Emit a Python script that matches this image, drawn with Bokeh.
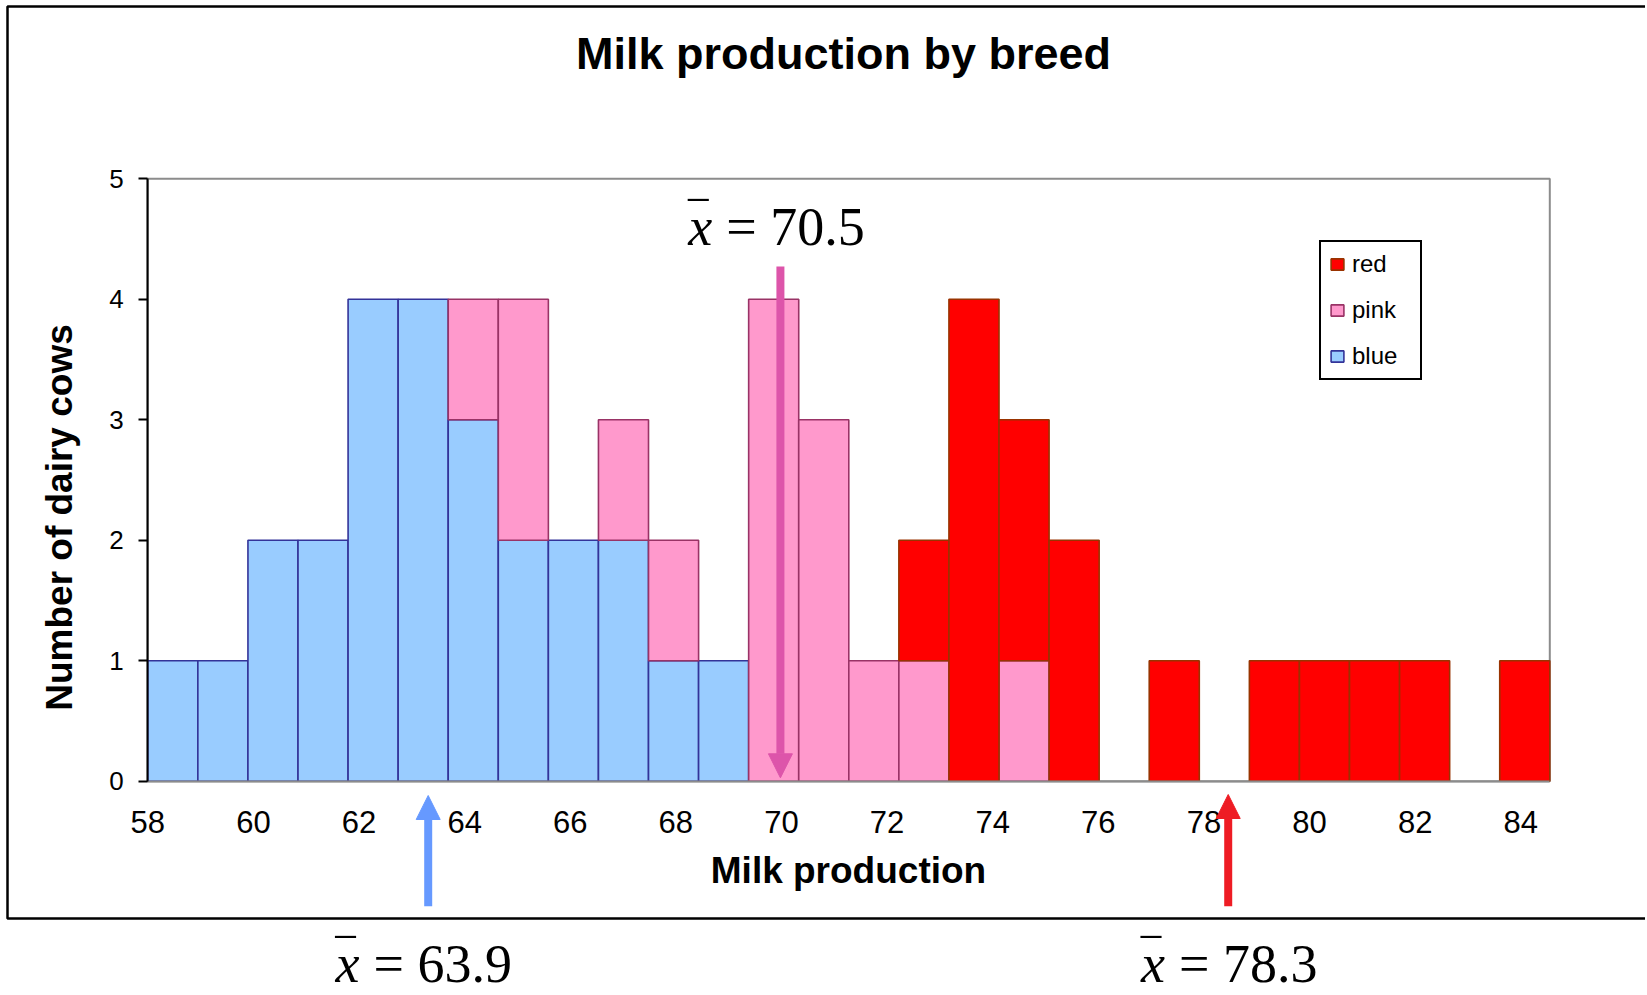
import numpy as np
from bokeh.plotting import figure
from bokeh.models import (ColumnDataSource, Range1d, FixedTicker, Legend, LegendItem,
                          Label, Arrow, NormalHead, BoxAnnotation)
from bokeh.embed import file_html
from bokeh.resources import INLINE

# ---------------- data ----------------
bin_start = 58.0
bin_end = 84.55
n_bins = 28

blue_counts = [1, 1, 2, 2, 4, 4, 3, 2, 2, 2, 1, 1, 0, 0, 0, 0, 0, 0, 0, 0, 0, 0, 0, 0, 0, 0, 0, 0]
pink_counts = [0, 0, 0, 0, 0, 0, 1, 2, 0, 1, 1, 0, 4, 3, 1, 1, 0, 1, 0, 0, 0, 0, 0, 0, 0, 0, 0, 0]
red_counts  = [0, 0, 0, 0, 0, 0, 0, 0, 0, 0, 0, 0, 0, 0, 0, 1, 4, 2, 2, 0, 1, 0, 1, 1, 1, 1, 0, 1]

series_names = ["blue", "pink", "red"]
legend_order = ["red", "pink", "blue"]
x_ticks = [58, 60, 62, 64, 66, 68, 70, 72, 74, 76, 78, 80, 82, 84]
y_ticks = [0, 1, 2, 3, 4, 5]
y_max = 5

mean_labels = ["63.9", "70.5", "78.3"]
arrow_x = [63.31, 69.98, 78.46]          # where the arrows stand in the picture

fill_colors = {"blue": "#99CCFF", "pink": "#FF99CC", "red": "#FF0000"}
line_colors = {"blue": "#333399", "pink": "#993366", "red": "#993300"}
arrow_colors = ["#6699FF", "#DD55AA", "#EE1C24"]

# ---------------- layout (pixels) ----------------
W, H = 1645, 993
PLOT_L, PLOT_R = 147.3, 1549.3      # pixels of bin_start / bin_end
PLOT_T, PLOT_B = 178.3, 780.7       # pixels of y_max / 0

kx = (PLOT_R - PLOT_L) / (bin_end - bin_start)
ky = (PLOT_B - PLOT_T) / y_max


def X(px):
    return bin_start + (px - PLOT_L) / kx


def Y(py):
    return (PLOT_B - py) / ky


SANS = "Liberation Sans"
SERIF = "Liberation Serif"

p = figure(width=W, height=H, title=None,
           x_range=Range1d(X(0), X(W)), y_range=Range1d(Y(H), Y(0)),
           min_border=0, min_border_left=0, min_border_right=0,
           min_border_top=0, min_border_bottom=0,
           output_backend="svg", toolbar_location=None,
           background_fill_color="white", border_fill_color="white")
p.outline_line_color = None
p.xgrid.visible = False
p.ygrid.visible = False

# plot-area frame (grey top/right edges)
p.add_layout(BoxAnnotation(left=bin_start, right=bin_end, bottom=0, top=y_max,
                           fill_color=None, line_color="#8C8C8C", line_alpha=1,
                           line_width=2, level="underlay"))

# stacked histogram
bw = (bin_end - bin_start) / n_bins
centers = [bin_start + bw * (i + 0.5) for i in range(n_bins)]
counts = {"blue": blue_counts, "pink": pink_counts, "red": red_counts}
bottom_acc = [0] * n_bins
renderers = {}
for name in series_names:
    c = counts[name]
    xs, bots, tops = [], [], []
    for i in range(n_bins):
        if c[i] > 0:
            xs.append(centers[i])
            bots.append(bottom_acc[i])
            tops.append(bottom_acc[i] + c[i])
        bottom_acc[i] += c[i]
    src = ColumnDataSource(dict(x=xs, bottom=bots, top=tops))
    renderers[name] = p.vbar(x="x", bottom="bottom", top="top", width=bw, source=src,
                             fill_color=fill_colors[name], line_color=line_colors[name],
                             line_width=1.6)

# axes, fixed at the plot-area edges
xa = p.xaxis[0]
xa.fixed_location = 0
xa.bounds = (bin_start, bin_end)
xa.ticker = FixedTicker(ticks=x_ticks)
xa.axis_line_color = "#8C8C8C"
xa.axis_line_width = 2
xa.major_tick_line_color = None
xa.minor_tick_line_color = None
xa.major_label_text_font = SANS
xa.major_label_text_font_size = "31px"
xa.major_label_text_color = "black"
xa.major_label_standoff = 24
xa.axis_label = "Milk production"
xa.axis_label_text_font = SANS
xa.axis_label_text_font_size = "37px"
xa.axis_label_text_font_style = "bold"
xa.axis_label_text_color = "black"
xa.axis_label_standoff = 13

ya = p.yaxis[0]
ya.fixed_location = bin_start
ya.bounds = (0, y_max)
ya.ticker = FixedTicker(ticks=y_ticks)
ya.axis_line_color = "black"
ya.axis_line_width = 2
ya.major_tick_line_color = "black"
ya.major_tick_line_width = 2
ya.major_tick_out = 9
ya.major_tick_in = 0
ya.minor_tick_line_color = None
ya.major_label_text_font = SANS
ya.major_label_text_font_size = "26px"
ya.major_label_text_color = "black"
ya.major_label_standoff = 15

# title and y-axis title
p.add_layout(Label(x=X(843), y=Y(70), y_offset=17, text="Milk production by breed",
                   text_align="center", text_baseline="alphabetic",
                   text_font=SANS, text_font_size="45px", text_font_style="bold",
                   text_color="black"))
p.add_layout(Label(x=X(59.3), y=Y(517), text="Number of dairy cows", angle=np.pi / 2,
                   text_align="center", text_baseline="middle",
                   text_font=SANS, text_font_size="37px", text_font_style="bold",
                   text_color="black"))

# legend
legend = Legend(items=[LegendItem(label=n, renderers=[renderers[n]]) for n in legend_order],
                location=(1319, H - 380), orientation="vertical",
                label_text_font=SANS, label_text_font_size="24px", label_text_color="black",
                glyph_width=16, glyph_height=14, label_height=24, label_width=60,
                label_standoff=7, spacing=18, padding=8, margin=0,
                border_line_color="black", border_line_width=2, border_line_alpha=1,
                background_fill_color="white", background_fill_alpha=1)
p.add_layout(legend)

# mean arrows (pixel ends) and labels
arrow_py = [(905.7, 795.0), (266.0, 777.3), (905.7, 794.0)]
label_px = [(335.0, 985.0), (687.7, 248.3), (1140.5, 985.0)]
for i in range(3):
    col = arrow_colors[i]
    y0, y1 = arrow_py[i]
    p.add_layout(Arrow(end=NormalHead(size=24, fill_color=col, line_color=col, line_width=1),
                       x_start=arrow_x[i], y_start=Y(y0), x_end=arrow_x[i], y_end=Y(y1),
                       line_color=col, line_width=8))
    lx, ly = X(label_px[i][0]), Y(label_px[i][1])
    p.add_layout(Label(x=lx, y=ly, y_offset=22, text="x", text_font=SERIF,
                       text_font_style="italic", text_font_size="54px",
                       text_baseline="alphabetic", text_align="left", text_color="black"))
    p.add_layout(Label(x=lx, y=ly, text="\u203e", text_font=SERIF,
                       text_font_size="54px", x_offset=1, y_offset=24,
                       text_baseline="alphabetic", text_align="left", text_color="black"))
    p.add_layout(Label(x=lx, y=ly, x_offset=38, y_offset=22, text="= " + mean_labels[i],
                       text_font=SERIF, text_font_size="54px",
                       text_baseline="alphabetic", text_align="left", text_color="black"))

# border box of the original chart area
p.add_layout(BoxAnnotation(left=X(7), right=X(W + 20), top=Y(6), bottom=Y(918),
                           fill_color=None, line_color="black", line_alpha=1,
                           line_width=2.5, level="overlay"))

open("out.html", "w").write(file_html(p, INLINE))
